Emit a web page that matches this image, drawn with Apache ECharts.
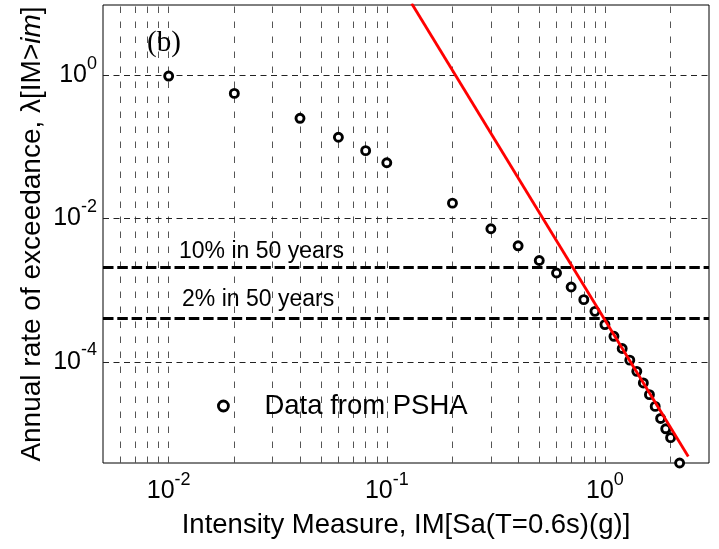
<!DOCTYPE html>
<html><head><meta charset="utf-8">
<script src="https://cdn.jsdelivr.net/npm/echarts@6/dist/echarts.min.js"></script>
<style>html,body{margin:0;padding:0;background:#fff}#c{width:719px;height:549px}</style>
</head><body><div id="c"></div>
<script>
// ---- data ----
const imValues = [0.01, 0.02, 0.04, 0.06, 0.08, 0.1, 0.2, 0.3, 0.4, 0.5, 0.6, 0.7, 0.8, 0.9,
  1.0, 1.1, 1.2, 1.3, 1.4, 1.5, 1.6, 1.7, 1.8, 1.9, 2.0, 2.2];
const rateValues = [0.97, 0.556, 0.25, 0.136, 0.0884, 0.060, 0.0164, 0.0072, 0.00417, 0.0026,
  0.00174, 0.00111, 0.00074, 0.000508, 0.000332, 0.000228, 0.000154, 0.000106, 7.4e-5, 5.1e-5,
  3.5e-5, 2.4e-5, 1.63e-5, 1.17e-5, 8.8e-6, 3.9e-6];
const fitIM = [0.13, 2.41];
const fitRate = [10, 4.8e-6];
const hazardRates = [0.0021, 0.000404];
const hazardLabels = ['10% in 50 years', '2% in 50 years'];
const xMajorTicks = [0.01, 0.1, 1];
const xTickLabels = ['{b|10}{s|-2}', '{b|10}{s|-1}', '{b|10}{s|0}'];
const xMinorGrid = [0.006, 0.007, 0.008, 0.009, 0.02, 0.03, 0.04, 0.05, 0.06, 0.07, 0.08, 0.09,
  0.2, 0.3, 0.4, 0.5, 0.6, 0.7, 0.8, 0.9, 2];
const yMajorTicks = [1, 0.01, 0.0001];
const yTickLabels = ['{b|10}{s|0}', '{b|10}{s|-2}', '{b|10}{s|-4}'];
const xRange = [0.005, 3];
const yRange = [3.9e-6, 9.5];
const seriesName = 'Data from PSHA';
const xTitle = 'Intensity Measure, IM[Sa(T=0.6s)(g)]';
const panelTag = '(b)';

const FONT = "'Liberation Sans', Arial, sans-serif";
const tickRich = {
  b: { fontSize: 25, fontFamily: FONT, color: '#000', padding: [8, 0, 8, 0] },
  s: { fontSize: 18, fontFamily: FONT, color: '#000', verticalAlign: 'top' }
};

const chart = echarts.init(document.getElementById('c'), null, { renderer: 'canvas' });
chart.setOption({
  animation: false,
  backgroundColor: '#fff',
  grid: { left: 103, top: 5, right: 10, bottom: 86, show: true, borderColor: '#000', borderWidth: 1, backgroundColor: 'transparent' },
  xAxis: {
    type: 'log', logBase: 10, min: xRange[0], max: xRange[1],
    axisLine: { show: false }, axisTick: { show: false }, axisLabel: { show: false },
    splitLine: { show: false },
    name: xTitle, nameLocation: 'middle', nameGap: 48,
    nameTextStyle: { fontSize: 27.5, fontFamily: FONT, color: '#000' }
  },
  yAxis: {
    type: 'log', logBase: 10, min: yRange[0], max: yRange[1],
    axisLine: { show: false }, axisTick: { show: false }, axisLabel: { show: false },
    splitLine: { show: false },
    name: '{n|Annual rate of exceedance, λ[IM>}{i|im}{n|]}', nameLocation: 'middle', nameGap: 57,
    nameTextStyle: {
      fontSize: 28, fontFamily: FONT, color: '#000',
      rich: {
        n: { fontSize: 28, fontFamily: FONT, color: '#000' },
        i: { fontSize: 28, fontFamily: FONT, color: '#000', fontStyle: 'italic' }
      }
    }
  },
  legend: {
    data: [seriesName], left: 212, top: 387, itemWidth: 10, itemHeight: 10,
    itemStyle: { color: '#fff', borderColor: '#000', borderWidth: 2.8 },
    textStyle: { fontSize: 27.5, fontFamily: FONT, color: '#000', padding: [0, 0, 0, 31] }
  },
  graphic: [
    { type: 'text', left: 147, top: 29, z: 10,
      style: { text: panelTag, font: "29px 'Liberation Serif', 'Times New Roman', serif", fill: '#000' } },
    { type: 'text', x: 179, y: 252, z: 10,
      style: { text: hazardLabels[0], font: "23px 'Liberation Sans', Arial, sans-serif", fill: '#000', textVerticalAlign: 'middle' } },
    { type: 'text', x: 182, y: 299.5, z: 10,
      style: { text: hazardLabels[1], font: "23px 'Liberation Sans', Arial, sans-serif", fill: '#000', textVerticalAlign: 'middle' } }
  ],
  series: [
    {
      name: 'xgrid', type: 'line', data: [], silent: true,
      markLine: {
        silent: true, z: 1, precision: 12, symbol: ['none', 'none'], animation: false,
        lineStyle: { color: '#555', width: 1, type: [6.5, 8.5] },
        label: { show: false },
        data: xMinorGrid.map(v => ({ xAxis: v })).concat(
          xMajorTicks.map((v, i) => ({
            xAxis: v,
            label: { show: true, position: 'start', distance: 8, formatter: xTickLabels[i], rich: tickRich }
          })))
      }
    },
    {
      name: 'ygrid', type: 'line', data: [], silent: true,
      markLine: {
        silent: true, z: 1, precision: 12, symbol: ['none', 'none'], animation: false,
        lineStyle: { color: '#222', width: 1, type: [6, 4.5] },
        data: yMajorTicks.map((v, i) => ({
          yAxis: v,
          label: { show: true, position: 'start', distance: 6, formatter: yTickLabels[i], rich: tickRich }
        }))
      }
    },
    {
      name: 'hazard', type: 'line', data: [], silent: true,
      markLine: {
        silent: true, z: 2, precision: 12, symbol: ['none', 'none'], animation: false,
        lineStyle: { color: '#000', width: 3, type: [10.5, 3.8] },
        label: { show: false },
        data: hazardRates.map(v => ({ yAxis: v }))
      }
    },
    {
      name: seriesName, type: 'scatter', z: 3,
      data: imValues.map((x, i) => [x, rateValues[i]]),
      symbol: 'circle', symbolSize: 8,
      itemStyle: { color: '#fff', borderColor: '#000', borderWidth: 2.9, opacity: 1 }
    },
    {
      name: 'fit', type: 'line', z: 4, clip: true,
      data: fitIM.map((x, i) => [x, fitRate[i]]),
      symbol: 'none', lineStyle: { color: '#ff0000', width: 2.8 }
    }
  ]
});
</script>
</body></html>
